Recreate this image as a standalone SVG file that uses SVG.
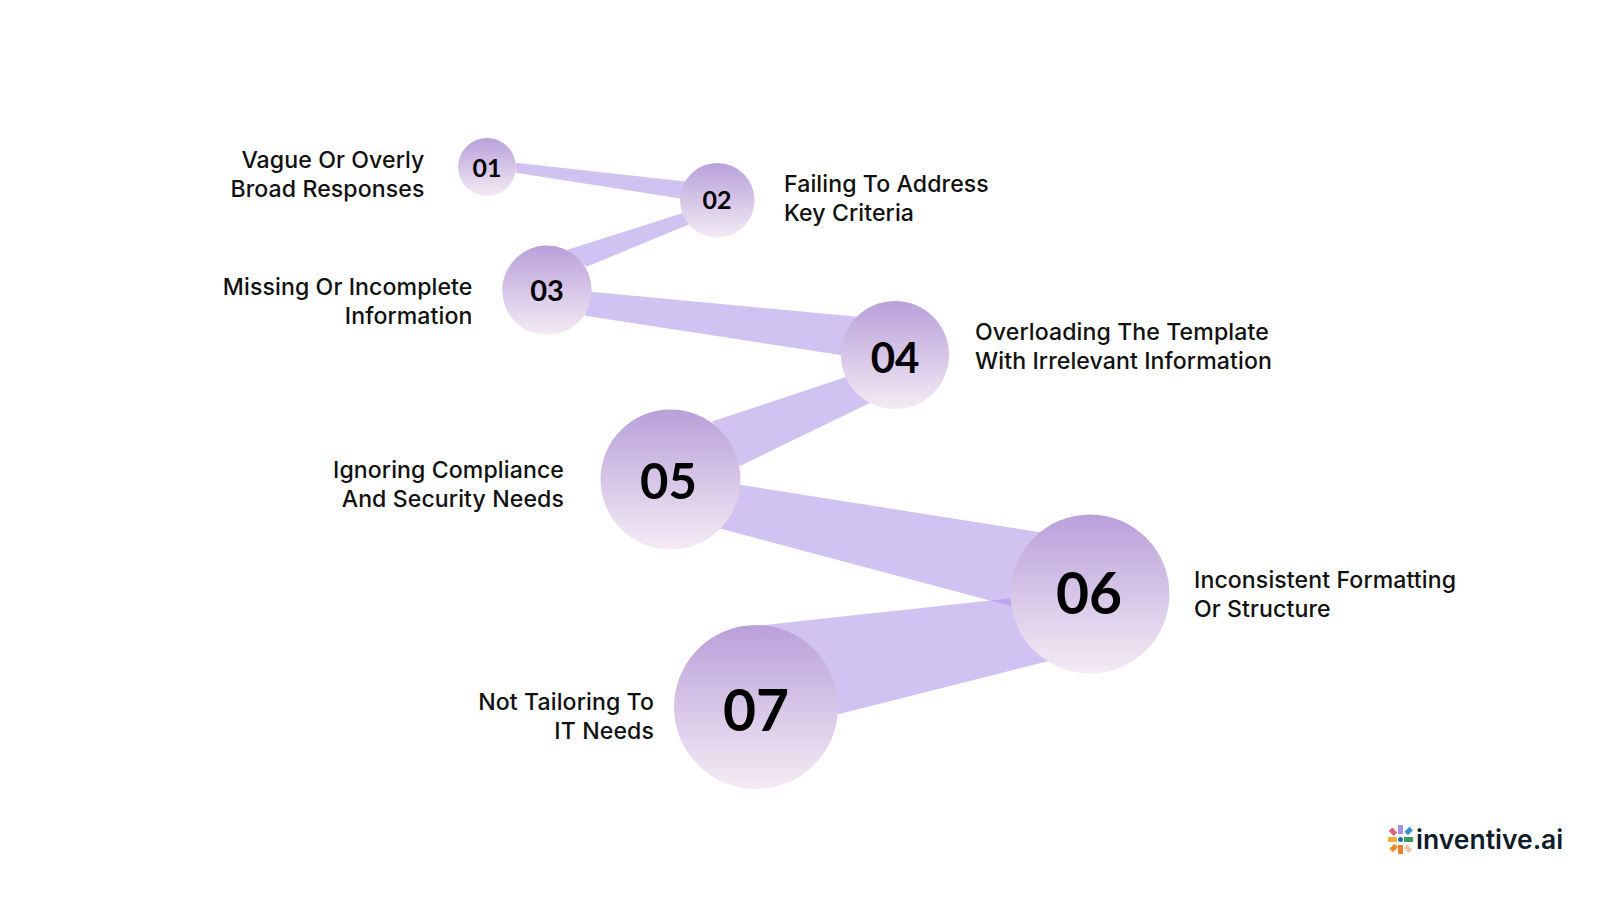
<svg xmlns="http://www.w3.org/2000/svg" width="1600" height="900" viewBox="0 0 1600 900">
<style>
.band{fill:#aa92e7;fill-opacity:.55}
.ball{fill:url(#g)}
.l{font-family:Inter,"Liberation Sans",sans-serif;font-size:23.100px;font-weight:500;fill:#111;letter-spacing:.1px}
.e{text-anchor:end}
.n{font-family:Lato,"Noto Sans",sans-serif;font-weight:700;fill:#000;text-anchor:middle}
</style>
<defs><linearGradient id="g" x1="0" y1="0" x2="0" y2="1"><stop offset="0" stop-color="#b9a0da"/><stop offset="1" stop-color="#f4ebf4"/></linearGradient></defs>
<rect width="1600" height="900" fill="#fff"/>
<g id="connectors">
<polygon class="band" points="516,162.7 690,182 690,200 516,172.7"/>
<polygon class="band" points="686,212 566.7,250 586.7,266.7 690,224"/>
<polygon class="band" points="588,291.5 860,317 860,358 585,315.7"/>
<polygon class="band" points="852,375 712,421.5 740,466 876,400"/>
<polygon class="band" points="735,484 1045,533 1045,615.300 720,528.6"/>
<polygon class="band" points="1040,595 760,625.5 800,724 1049,661"/>
</g>
<g id="node-01"><circle class="ball" cx="487" cy="167" r="29"/><text class="n" x="487" y="176.500" font-size="25">01</text><text class="l e" x="424.500" y="168">Vague Or Overly</text><text class="l e" x="424.500" y="197.300">Broad Responses</text></g>
<g id="node-02"><circle class="ball" cx="717.300" cy="200.300" r="37.300"/><text class="n" x="717" y="209" font-size="25">02</text><text class="l" x="784" y="192.300">Failing To Address</text><text class="l" x="784" y="221.300">Key Criteria</text></g>
<g id="node-03"><circle class="ball" cx="547" cy="290.300" r="44.700"/><text class="n" x="547" y="301" font-size="29">03</text><text class="l e" x="472.500" y="295">Missing Or Incomplete</text><text class="l e" x="472.500" y="324">Information</text></g>
<g id="node-04"><circle class="ball" cx="895" cy="355" r="54"/><text class="n" x="895" y="373" font-size="42">04</text><text class="l" x="975" y="340">Overloading The Template</text><text class="l" x="975" y="369">With Irrelevant Information</text></g>
<g id="node-05"><circle class="ball" cx="670.500" cy="479.500" r="70"/><text class="n" x="668.500" y="499" font-size="49">05</text><text class="l e" x="564" y="478">Ignoring Compliance</text><text class="l e" x="564" y="507.300">And Security Needs</text></g>
<g id="node-06"><circle class="ball" cx="1090" cy="594" r="79.500"/><text class="n" x="1089" y="614" font-size="57">06</text><text class="l" x="1194" y="588">Inconsistent Formatting</text><text class="l" x="1194" y="617.300">Or Structure</text></g>
<g id="node-07"><circle class="ball" cx="756" cy="707" r="82"/><text class="n" x="756" y="731" font-size="57">07</text><text class="l e" x="654" y="710">Not Tailoring To</text><text class="l e" x="654" y="739">IT Needs</text></g>
<g id="logo">
<rect x="1398" y="825" width="5" height="9" fill="#a98fe0"/>
<rect x="1398" y="845" width="5" height="9" fill="#e8822e"/>
<rect x="1388" y="837" width="9" height="5" fill="#f0b040"/>
<rect x="1404" y="837" width="9" height="5" fill="#3d9a5a"/>
<rect x="1390" y="829" width="7" height="5" fill="#d9607a" transform="rotate(45 1393 831)"/>
<rect x="1405" y="829" width="7" height="5" fill="#3a8fd0" transform="rotate(-45 1408 831)"/>
<rect x="1390" y="846" width="7" height="5" fill="#ee8a2a" transform="rotate(-45 1393 848)"/>
<rect x="1405" y="846" width="7" height="5" fill="#f2c4a8" transform="rotate(45 1408 848)"/>
<circle cx="1400.500" cy="839.500" r="2.500" fill="#1c6ea0"/>
<text x="1416" y="849" font-family="Inter,'Liberation Sans',sans-serif" font-size="26.500" font-weight="600" fill="#0f1c2a">inventive.ai</text>
</g>
</svg>
